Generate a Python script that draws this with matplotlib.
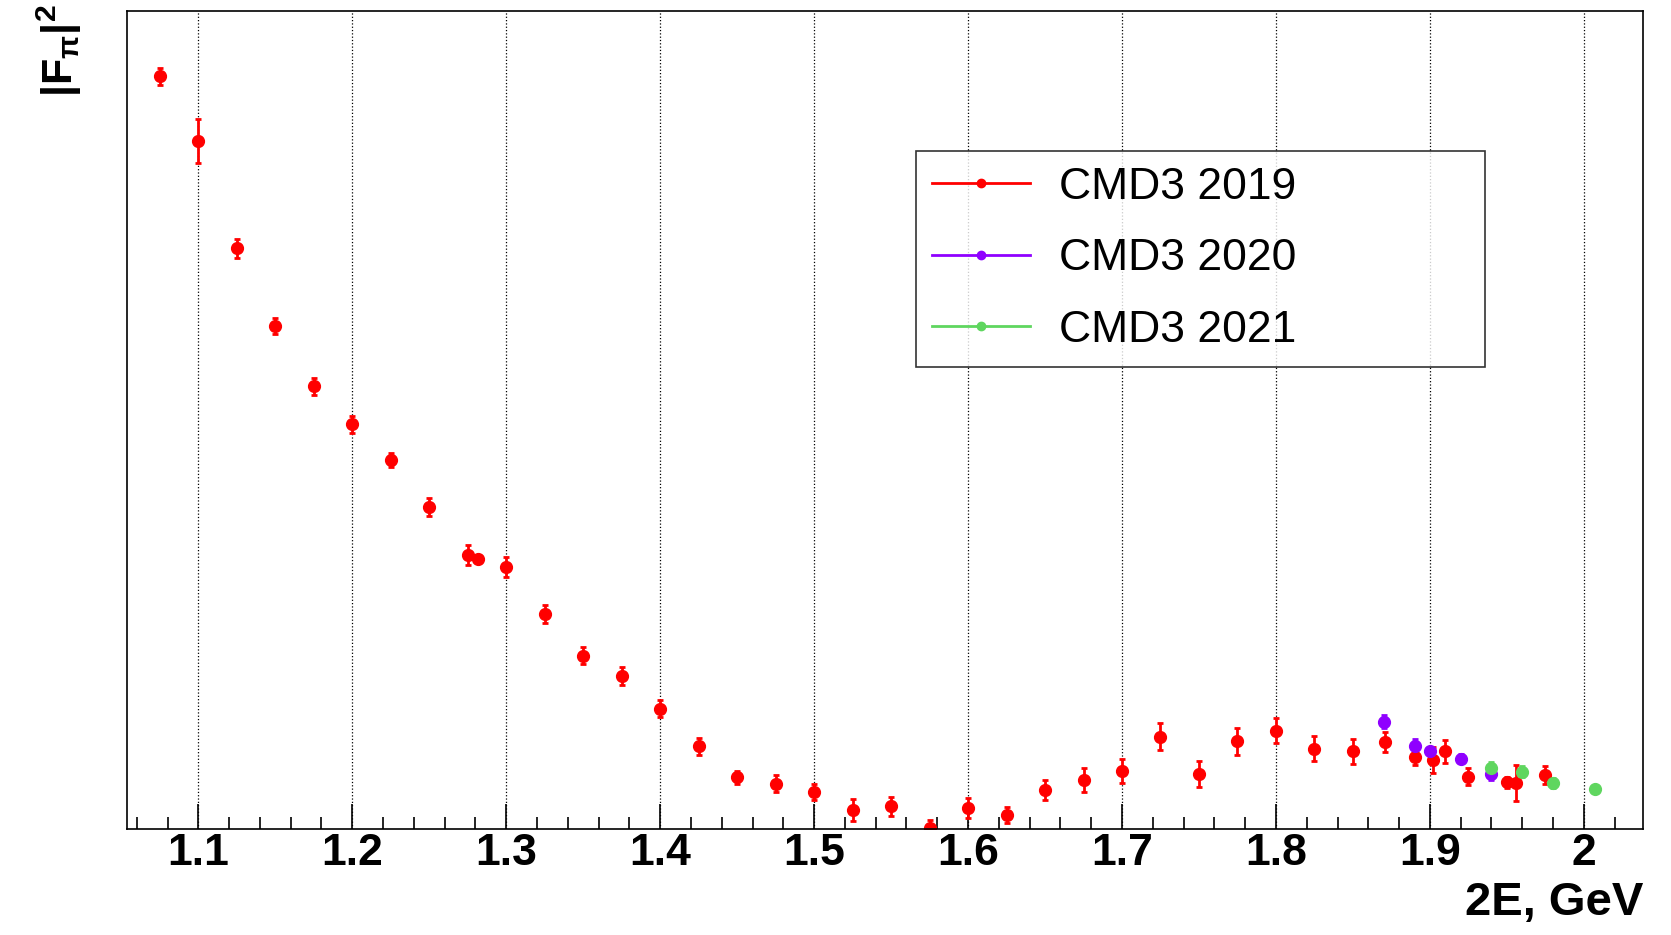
import matplotlib
matplotlib.use("Agg")
import matplotlib.pyplot as plt
from matplotlib.lines import Line2D
from matplotlib.ticker import MultipleLocator

plt.rcParams['font.family'] = ['Liberation Sans', 'DejaVu Sans']
plt.rcParams['mathtext.fontset'] = 'custom'
plt.rcParams['mathtext.rm'] = 'Liberation Sans:bold'
plt.rcParams['mathtext.bf'] = 'Liberation Sans:bold'
plt.rcParams['mathtext.it'] = 'Liberation Sans'
plt.rcParams['mathtext.default'] = 'bf'

# CMD3 2019 (arbitrary units)
x19 = [1.075, 1.1, 1.125, 1.15, 1.175, 1.2, 1.225, 1.25, 1.275, 1.282,
       1.3, 1.325, 1.35, 1.375, 1.4, 1.425, 1.45, 1.475, 1.5, 1.525,
       1.55, 1.575, 1.6, 1.625, 1.65, 1.675, 1.7, 1.725, 1.75, 1.775,
       1.8, 1.825, 1.85, 1.871, 1.89, 1.902, 1.91, 1.925, 1.95, 1.956, 1.975]
y19 = [0.920, 0.841, 0.710, 0.615, 0.541, 0.495, 0.451, 0.394, 0.335, 0.330,
       0.320, 0.263, 0.212, 0.187, 0.147, 0.101, 0.063, 0.055, 0.045, 0.023,
       0.028, 0.001, 0.026, 0.017, 0.048, 0.060, 0.071, 0.113, 0.067, 0.107,
       0.120, 0.098, 0.095, 0.106, 0.088, 0.084, 0.095, 0.064, 0.057, 0.056, 0.066]
e19 = [0.0106, 0.0271, 0.0114, 0.0100, 0.0104, 0.0104, 0.0086, 0.0108, 0.0122, 0.0015,
       0.0122, 0.0114, 0.0106, 0.0110, 0.0102, 0.0106, 0.0083, 0.0104, 0.0094, 0.0134,
       0.0116, 0.0098, 0.0124, 0.0102, 0.0122, 0.0147, 0.0147, 0.0163, 0.0161, 0.0163,
       0.0155, 0.0155, 0.0155, 0.0120, 0.0092, 0.0159, 0.0143, 0.0108, 0.0065, 0.0224, 0.0106]

# CMD3 2020
x20 = [1.87, 1.89, 1.90, 1.92, 1.94]
y20 = [0.131, 0.102, 0.095, 0.086, 0.067]
e20 = [0.0081, 0.0078, 0.0050, 0.0057, 0.0072]

# CMD3 2021
x21 = [1.94, 1.96, 1.98, 2.007]
y21 = [0.074, 0.070, 0.056, 0.049]
e21 = [0.0081, 0.0065, 0.0065, 0.0015]

labels = ["CMD3 2019", "CMD3 2020", "CMD3 2021"]
colors = ['#ff0000', '#8f00ff', '#5fd65f']

fig = plt.figure(figsize=(16.71, 9.35), dpi=100)
ax = fig.add_axes([0.0763, 0.1134, 0.9072, 0.8748])

for xs, ys, es, c in [(x19, y19, e19, colors[0]), (x20, y20, e20, colors[1]), (x21, y21, e21, colors[2])]:
    ax.errorbar(xs, ys, yerr=es, fmt='o', color=c, ms=8.5, elinewidth=2,
                capsize=2, capthick=2, clip_on=True)

ax.set_xlim(1.054, 2.0387)
ax.set_ylim(0.0, 1.0)

ax.xaxis.set_minor_locator(MultipleLocator(0.02))
ax.set_xticks([1.1, 1.2, 1.3, 1.4, 1.5, 1.6, 1.7, 1.8, 1.9, 2.0])
ax.set_xticklabels(['1.1', '1.2', '1.3', '1.4', '1.5', '1.6', '1.7', '1.8', '1.9', '2'])
ax.tick_params(axis='x', which='major', direction='in', length=18, width=1.2,
               labelsize=32, pad=3)
ax.tick_params(axis='x', which='minor', direction='in', length=9, width=1.2)
for lab in ax.get_xticklabels():
    lab.set_fontweight('bold')
ax.set_yticks([])
ax.grid(axis='x', which='major', linestyle=':', color='black', linewidth=0.9)

for s in ax.spines.values():
    s.set_linewidth(1.2)

ax.set_xlabel('2E, GeV', fontsize=34, fontweight='bold', loc='right')
ax.xaxis.set_label_coords(1.0, -0.064)
ax.set_ylabel(r'$|F_{\pi}|^{2}$', fontsize=31, loc='top')
ax.yaxis.set_label_coords(-0.029, 1.008)

handles = [Line2D([], [], color=c, marker='o', ms=6, lw=2) for c in colors]
leg = ax.legend(handles, labels, loc='lower left',
                bbox_to_anchor=(0.5204, 0.5653, 0.3754, 0.2619), mode='expand',
                fontsize=32, frameon=True, fancybox=False, edgecolor='black',
                handlelength=2.2, handletextpad=0.65, borderpad=0.35,
                labelspacing=0.69, borderaxespad=0)
leg.get_frame().set_linewidth(1.2)

fig.savefig('out.png', dpi=100)
